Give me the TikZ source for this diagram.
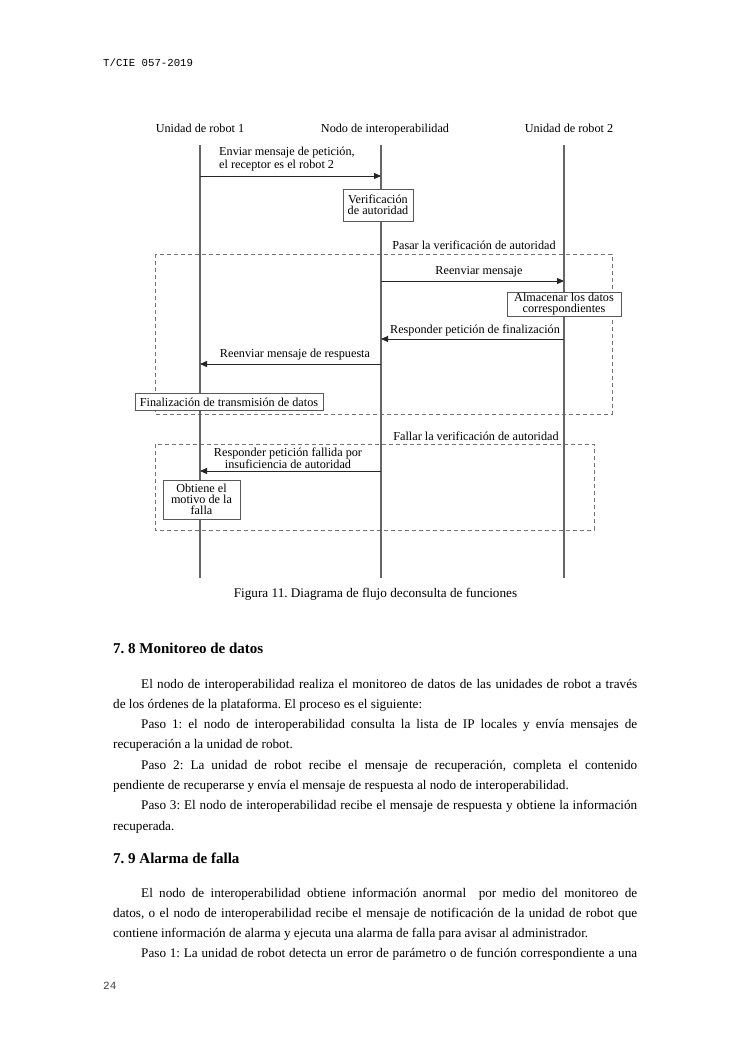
\documentclass[tikz,border=0pt]{standalone}
\usepackage{fontspec}
\setmainfont{Liberation Serif}
\newfontfamily\songmono{Liberation Mono}
\usetikzlibrary{arrows.meta,positioning}
\frenchspacing

\newcommand{\fullw}[1]{\hbox to 524pt{#1}} % 両端揃えの行（字下げなし）
\newcommand{\indw}[1]{\hbox to 496pt{#1}}  % 両端揃えの行（字下げあり）

\tikzset{
  lane/.style={draw=black!60,line width=1.1pt},
  msg/.style={draw=black!85,line width=0.9pt,-{Triangle[length=7pt,width=6pt]}},
  actbox/.style={draw=black!65,fill=white,line width=0.9pt,align=center,inner sep=0pt},
  frame/.style={draw=black!55,line width=0.9pt,dash pattern=on 4pt off 3pt},
  lbl/.style={inner sep=0pt,anchor=base,font=\fontsize{12.2}{13}\selectfont},
  para/.style={anchor=base west,inner sep=0pt,font=\fontsize{13.2}{20}\selectfont},
}

\begin{document}
\begin{tikzpicture}[x=1pt,y=-1pt]
  \useasboundingbox[fill=white] (0,0) rectangle (750,1060); % ページ全体

  \node[anchor=base west,inner sep=0pt,font=\songmono\fontsize{10.7}{12}\selectfont] (hdr) at (103,66) {T/CIE 057-2019}; % ヘッダ

  % ライフラインの見出し（ベースライン揃え）
  \node[lbl] (r1) at (200,132) {Unidad de robot 1};
  \node[lbl] (nodo) at (385,132) {Nodo de interoperabilidad};
  \node[lbl] (r2) at (569,132) {Unidad de robot 2};

  % 点線の枠（成功時・失敗時）
  \draw[frame] (155,254) rectangle (612,414);
  \draw[frame] (155,444) rectangle (594,530);

  % ライフライン
  \coordinate (r1top) at (200,145); \coordinate (r1bot) at (200,578);
  \coordinate (ndtop) at (381,145); \coordinate (ndbot) at (381,578);
  \coordinate (r2top) at (564,145); \coordinate (r2bot) at (564,578);
  \draw[lane] (r1top) -- (r1bot);
  \draw[lane] (ndtop) -- (ndbot);
  \draw[lane] (r2top) -- (r2bot);

  % メッセージ1：ロボット1 → 相互運用ノード
  \coordinate (m1s) at (200,176); \coordinate (m1e) at (381,176);
  \draw[msg] (m1s) -- (m1e);
  \node[lbl,anchor=west,align=left] (m1lbl) at (219,159.5) {Enviar mensaje de petición,\\el receptor es el robot 2};

  \node[actbox,minimum width=70pt,minimum height=32pt,font=\fontsize{12.2}{11}\selectfont] (verif) at (378,205) {Verificación\\de autoridad}; % 権限確認

  \node[lbl] (paso) at (474,249) {Pasar la verificación de autoridad}; % 成功時

  % 転送
  \coordinate (m2s) at (381,281); \coordinate (m2e) at (564,281);
  \draw[msg] (m2s) -- (m2e);
  \node[lbl] (m2lbl) at (479,274) {Reenviar mensaje};

  \node[actbox,minimum width=114pt,minimum height=24pt,font=\fontsize{12.2}{11}\selectfont] (alm) at (564,304) {Almacenar los datos\\correspondientes};

  % 完了応答
  \coordinate (m3s) at (564,339); \coordinate (m3e) at (381,339);
  \draw[msg] (m3s) -- (m3e);
  \node[lbl] (m3lbl) at (475,333) {Responder petición de finalización};

  % 応答の転送
  \coordinate (m4s) at (381,364); \coordinate (m4e) at (200,364);
  \draw[msg] (m4s) -- (m4e);
  \node[lbl] (m4lbl) at (295,357) {Reenviar mensaje de respuesta};

  \node[actbox,minimum width=188pt,minimum height=17pt,font=\fontsize{12.2}{13}\selectfont] (fin) at (229,402) {Finalización de transmisión de datos};

  \node[lbl] (falla) at (476,440) {Fallar la verificación de autoridad}; % 失敗時

  % 失敗応答
  \coordinate (m5s) at (381,471); \coordinate (m5e) at (200,471);
  \draw[msg] (m5s) -- (m5e);
  \node[lbl,anchor=center,align=center,font=\fontsize{12.2}{10.5}\selectfont] (m5lbl) at (288,458) {Responder petición fallida por\\insuficiencia de autoridad};

  \node[actbox,minimum width=77pt,minimum height=39pt,font=\fontsize{12.2}{10.8}\selectfont] (motivo) at (201.5,499.5) {Obtiene el\\motivo de la\\falla};

  \node[inner sep=0pt,anchor=base,font=\fontsize{13.2}{14}\selectfont] (cap) at (375.5,597) {Figura 11. Diagrama de flujo deconsulta de funciones}; % 図の題

  % 7.8 節
  \node[anchor=base west,inner sep=0pt,font=\fontsize{15}{16}\selectfont] (s78) at (113,653) {\textbf{7. 8 Monitoreo de datos}};
  \node[para] (p1) at (141,688) {\indw{El nodo de interoperabilidad realiza el monitoreo de datos de las unidades de robot a través}};
  \node[para] (p2) at (113,708.3) {de los órdenes de la plataforma. El proceso es el siguiente:};
  \node[para] (p3) at (141,728.6) {\indw{Paso 1: el nodo de interoperabilidad consulta la lista de IP locales y envía mensajes de}};
  \node[para] (p4) at (113,748.9) {recuperación a la unidad de robot.};
  \node[para] (p5) at (141,769.2) {\indw{Paso 2: La unidad de robot recibe el mensaje de recuperación, completa el contenido}};
  \node[para] (p6) at (113,789.5) {pendiente de recuperarse y envía el mensaje de respuesta al nodo de interoperabilidad.};
  \node[para] (p7) at (141,809.8) {\indw{Paso 3: El nodo de interoperabilidad recibe el mensaje de respuesta y obtiene la información}};
  \node[para] (p8) at (113,830.1) {recuperada.};

  % 7.9 節
  \node[anchor=base west,inner sep=0pt,font=\fontsize{15}{16}\selectfont] (s79) at (113,863) {\textbf{7. 9 Alarma de falla}};
  \node[para] (q1) at (141,897) {\indw{El nodo de interoperabilidad obtiene información anormal\ \ por medio del monitoreo de}};
  \node[para] (q2) at (113,917.3) {\fullw{datos, o el nodo de interoperabilidad recibe el mensaje de notificación de la unidad de robot que}};
  \node[para] (q3) at (113,937.6) {contiene información de alarma y ejecuta una alarma de falla para avisar al administrador.};
  \node[para] (q4) at (141,957.9) {\indw{Paso 1: La unidad de robot detecta un error de parámetro o de función correspondiente a una}};

  \node[anchor=base west,inner sep=0pt,font=\songmono\fontsize{11}{12}\selectfont,text=black!75] (pnum) at (103,989) {24}; % ページ番号
\end{tikzpicture}
\end{document}
